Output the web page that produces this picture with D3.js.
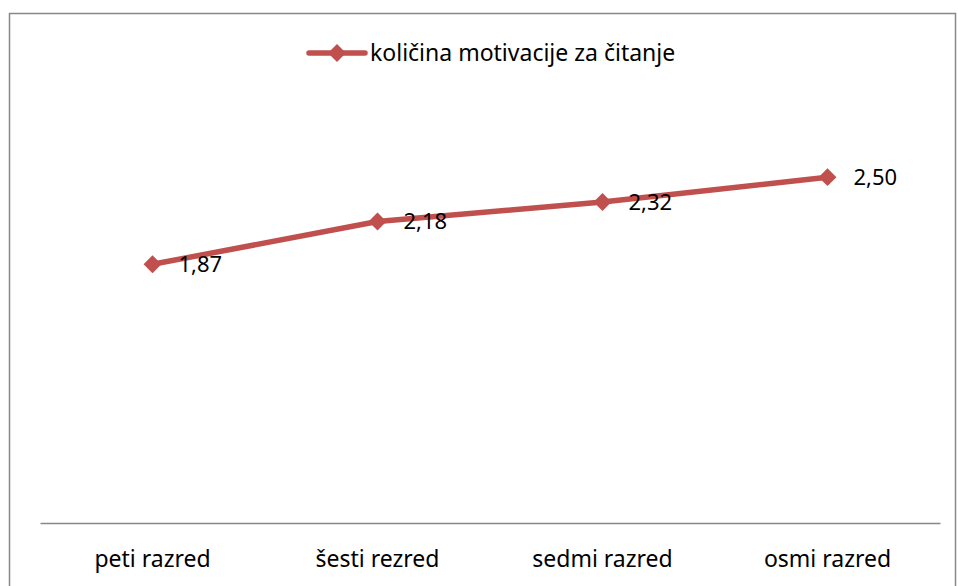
<!DOCTYPE html>
<html>
  <head>
    <meta charset="utf-8">
    <style>
    body { margin: 0; background: #fff; }
    text { font-family: "Noto Sans", sans-serif; fill: #000; }
    </style>
  </head>
  <body>
    <script src="https://d3js.org/d3.v7.min.js"></script>
    <script>

    var categories = ["peti razred", "šesti rezred", "sedmi razred", "osmi razred"];
    var values = [1.87, 2.18, 2.32, 2.50];
    var seriesName = "količina motivacije za čitanje";
    var yDomain = [0, 3];

    var width = 958, height = 586;
    var color = "#C0504D";

    var svg = d3.select("body").append("svg")
        .attr("width", width)
        .attr("height", height);

    // outer chart frame
    svg.append("rect")
        .attr("x", 9.5)
        .attr("y", 13.5)
        .attr("width", 946)
        .attr("height", 590)
        .attr("fill", "none")
        .attr("stroke", "#888")
        .attr("stroke-width", 1.5);

    var x = d3.scaleBand()
        .domain(categories)
        .range([40, 940]);

    var y = d3.scaleLinear()
        .domain(yDomain)
        .range([523, 108]);

    var xAxis = svg.append("g")
        .attr("transform", "translate(0," + y(0) + ")")
        .call(d3.axisBottom(x).tickSize(0).tickPadding(0));

    xAxis.select(".domain")
        .attr("stroke", "#888")
        .attr("stroke-width", 1.5);

    xAxis.selectAll("text")
        .attr("dy", null)
        .attr("y", 44)
        .style("font-size", "23px")
        .style("font-family", "'Noto Sans', sans-serif")
        .attr("fill", "#000");

    var pts = categories.map(function(c, i) {
      return { cat: c, v: values[i] };
    });

    var line = d3.line()
        .x(function(d) { return x(d.cat) + x.bandwidth() / 2; })
        .y(function(d) { return y(d.v); });

    svg.append("path")
        .datum(pts)
        .attr("d", line)
        .attr("fill", "none")
        .attr("stroke", color)
        .attr("stroke-width", 5.5)
        .attr("stroke-linejoin", "round");

    var diamond = d3.symbol().type(d3.symbolSquare).size(160);

    svg.selectAll(".marker")
        .data(pts)
        .enter().append("path")
          .attr("class", "marker")
          .attr("d", diamond)
          .attr("fill", color)
          .attr("transform", function(d) {
            return "translate(" + (x(d.cat) + x.bandwidth() / 2) + "," + y(d.v) + ") rotate(45)";
          });

    var fmt = d3.format(".2f");

    svg.selectAll(".label")
        .data(pts)
        .enter().append("text")
          .attr("class", "label")
          .attr("x", function(d) { return x(d.cat) + x.bandwidth() / 2 + 26; })
          .attr("y", function(d) { return y(d.v); })
          .attr("dy", "0.35em")
          .style("font-size", "22px")
          .text(function(d) { return fmt(d.v).replace(".", ","); });

    // legend
    var legend = svg.append("g")
        .attr("transform", "translate(309,53)");

    legend.append("line")
        .attr("x1", 0).attr("x2", 56)
        .attr("y1", 0).attr("y2", 0)
        .attr("stroke", color)
        .attr("stroke-width", 5.5)
        .attr("stroke-linecap", "round");

    legend.append("path")
        .attr("d", diamond)
        .attr("fill", color)
        .attr("transform", "translate(28,0) rotate(45)");

    legend.append("text")
        .attr("x", 61)
        .attr("y", 0)
        .attr("dy", "0.35em")
        .style("font-size", "23px")
        .text(seriesName);

    </script>
  </body>
</html>
